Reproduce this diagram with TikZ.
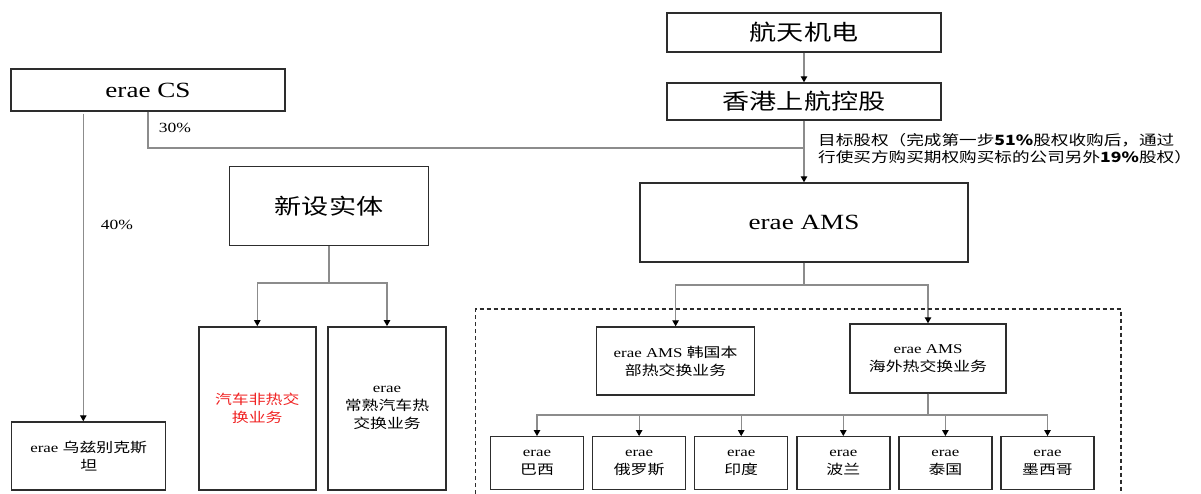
\documentclass[tikz,border=0pt]{standalone}
\usepackage{fontspec}
\setmainfont{Liberation Serif}[FakeStretch=1.25]
\newfontfamily\cjk{Noto Sans CJK SC}[FakeStretch=1.25]
\usetikzlibrary{arrows.meta}
\definecolor{linegray}{RGB}{140,140,140}
\definecolor{boxgray}{RGB}{45,45,45}
\definecolor{bizred}{RGB}{240,35,35}
\begin{document}
\begin{tikzpicture}[x=1pt, y=-1pt, line join=miter, >={Triangle[length=6pt,width=6.5pt,color=black]}]
	\tikzset{box/.style={draw=boxgray, line width=1.4pt, inner sep=0pt, align=center},
		conn/.style={draw=linegray, line width=1.1pt},
		big/.style={font=\fontsize{21.7}{26}\selectfont},
		small/.style={font=\fontsize{13.5}{18}\selectfont}}
	\useasboundingbox (0,0) rectangle (1201,494);
	% top owners
	\node[box, big, minimum width=274, minimum height=42] (cs) at (148,90) {erae CS};
	\node[box, big, minimum width=274, minimum height=39] (ht) at (804,32.5) {\cjk 航天机电};
	\node[box, big, minimum width=274, minimum height=37] (hk) at (804,101.5) {\cjk 香港上航控股};
	\node[box, big, minimum width=328, minimum height=79] (ams) at (804,222.5) {erae AMS};
	\node[box, big, minimum width=199, minimum height=79] (xs) at (329,206) {\cjk 新设实体};
	% second level
	\node[box, small, minimum width=117, minimum height=163] (fr) at (257.3,408.3) {\color{bizred}\cjk 汽车非热交\\\color{bizred}\cjk 换业务};
	\node[box, small, minimum width=118, minimum height=163] (cr) at (387,408.3) {erae\\{\cjk 常熟汽车热}\\{\cjk 交换业务}};
	\node[box, small, minimum width=154, minimum height=68] (uz) at (88.7,456) {erae {\cjk 乌兹别克斯}\\{\cjk 坦}};
	\node[box, small, minimum width=158, minimum height=68] (kr) at (675.6,361) {erae AMS {\cjk 韩国本}\\{\cjk 部热交换业务}};
	\node[box, small, minimum width=156, minimum height=69] (os) at (928,358.5) {erae AMS\\{\cjk 海外热交换业务}};
	% labels
	\node[font=\fontsize{14}{16}\selectfont] (p30) at (175,128) {30\%};
	\node[font=\fontsize{14}{16}\selectfont] (p40) at (117,225) {40\%};
	\node[font=\fontsize{14.1}{17.5}\selectfont\cjk, anchor=west, align=left, inner sep=0pt] (note) at (818,148.5) {目标股权（完成第一步{\bfseries 51\%}股权收购后，通过\\行使买方购买期权购买标的公司另外{\bfseries 19\%}股权）};
	% connectors
	\coordinate (j30) at (804,148);
	\draw[conn,->] (ht) -- (hk);
	\draw[conn,->] (hk) -- (ams);
	\draw[conn] (cs.south) |- (j30);
	\draw[conn,->] ([xshift=73pt,yshift=-2pt]cs.south west) -- ([xshift=73pt]cs.south west |- uz.north);
	\draw[conn,->] (xs.south) -- (xs.south |- 0,283) -| (fr.north);
	\draw[conn,->] (xs.south) -- (xs.south |- 0,283) -| (cr.north);
	\draw[conn,->] (ams.south) -- (ams.south |- 0,285) -| (kr.north);
	\draw[conn,->] (ams.south) -- (ams.south |- 0,285) -| (os.north);
	% overseas subsidiaries
	\foreach \name [count=\i from 0] in {巴西,俄罗斯,印度,波兰,泰国,墨西哥}{
		\node[box, small, minimum width=93, minimum height=52.5] (sub\i) at (537+102.1*\i,463) {erae\\{\cjk \name}};
		\draw[conn,->] (os.south) -- (os.south |- 0,415) -| (sub\i.north);
	}
	% dashed frame
	\draw[draw=boxgray, line width=1.1pt, dash pattern=on 4pt off 3pt] (475.6,494) -- (475.6,309) -- (1121,309) -- (1121,494);
\end{tikzpicture}
\end{document}
